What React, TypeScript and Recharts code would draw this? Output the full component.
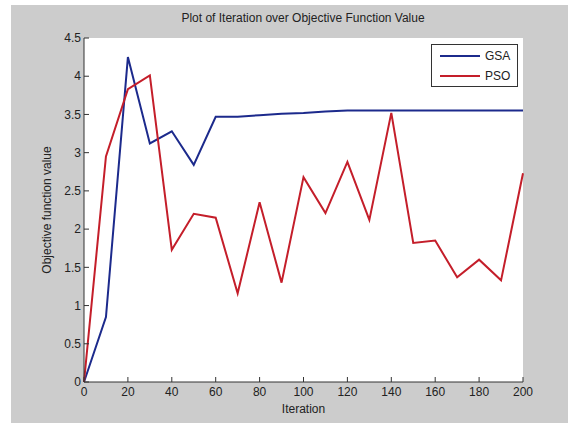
import { LineChart, Line, XAxis, YAxis, Legend } from 'recharts';

const iterations = [0, 10, 20, 30, 40, 50, 60, 70, 80, 90, 100, 110, 120, 130, 140, 150, 160, 170, 180, 190, 200];
const gsaValues = [0, 0.85, 4.25, 3.12, 3.28, 2.84, 3.47, 3.47, 3.49, 3.51, 3.52, 3.54, 3.55, 3.55, 3.55, 3.55, 3.55, 3.55, 3.55, 3.55, 3.55];
const psoValues = [0, 2.95, 3.83, 4.01, 1.73, 2.2, 2.15, 1.16, 2.35, 1.3, 2.68, 2.21, 2.88, 2.12, 3.52, 1.82, 1.85, 1.37, 1.6, 1.33, 2.73];
const xTicks = [0, 20, 40, 60, 80, 100, 120, 140, 160, 180, 200];
const yTicks = [0, 0.5, 1, 1.5, 2, 2.5, 3, 3.5, 4, 4.5];

const rows = iterations.map((it, i) => ({ it, gsa: gsaValues[i], pso: psoValues[i] }));

const GSA_COLOR = '#1c2a8c';
const PSO_COLOR = '#c41e2a';
const AXIS = '#333';
const FONT = '"Liberation Sans", Arial, sans-serif';

const tickStyle = { fontSize: 12, fill: '#222', fontFamily: FONT };

function MatlabLegend() {
  return (
    <div
      style={{
        position: 'absolute',
        left: 431,
        top: 44,
        width: 85,
        height: 41,
        border: `1px solid ${AXIS}`,
        background: '#fff',
        fontFamily: FONT,
        fontSize: 12,
        color: '#222',
      }}
    >
      {[
        { name: 'GSA', color: GSA_COLOR },
        { name: 'PSO', color: PSO_COLOR },
      ].map((e, i) => (
        <div key={e.name} style={{ position: 'absolute', left: 8, top: 3 + i * 20, height: 16, display: 'flex', alignItems: 'center' }}>
          <span style={{ width: 40, height: 2, background: e.color, display: 'inline-block' }} />
          <span style={{ marginLeft: 5 }}>{e.name}</span>
        </div>
      ))}
    </div>
  );
}

export default function App() {
  return (
    <div style={{ position: 'absolute', left: 0, top: 0, width: 568, height: 423, background: '#fff' }}>
      <div style={{ position: 'absolute', left: 11, top: 5, width: 557, height: 418, background: '#cccccc' }} />
      <div
        style={{
          position: 'absolute',
          left: 0,
          top: 11,
          width: 568,
          textAlign: 'center',
          paddingLeft: 38,
          boxSizing: 'border-box',
          fontFamily: FONT,
          fontSize: 12,
          color: '#222',
        }}
      >
        Plot of Iteration over Objective Function Value
      </div>
      <div style={{ position: 'absolute', left: 0, top: 0 }}>
        <LineChart width={568} height={423} data={rows} margin={{ top: 38, right: 45, bottom: 11, left: 44 }}>
          <rect x={84} y={38} width={439} height={344} fill="#fff" />
          <XAxis
            xAxisId="b"
            dataKey="it"
            type="number"
            domain={[0, 200]}
            ticks={xTicks}
            interval={0}
            height={30}
            stroke={AXIS}
            tickSize={-5}
            tickMargin={10}
            tick={tickStyle}
            label={{ value: 'Iteration', position: 'insideBottom', offset: -1, style: { fontSize: 12, fill: '#222', fontFamily: FONT } }}
          />
          <XAxis
            xAxisId="t"
            orientation="top"
            dataKey="it"
            type="number"
            domain={[0, 200]}
            ticks={xTicks}
            height={0}
            stroke={AXIS}
            tickSize={-5}
            tickFormatter={() => ''}
          />
          <YAxis
            yAxisId="l"
            type="number"
            domain={[0, 4.5]}
            ticks={yTicks}
            interval={0}
            width={40}
            stroke={AXIS}
            tickSize={-5}
            tickMargin={8}
            tick={tickStyle}
            label={{
              value: 'Objective function value',
              angle: -90,
              position: 'insideLeft',
              offset: 3,
              style: { fontSize: 12, fill: '#222', fontFamily: FONT, textAnchor: 'middle' },
            }}
          />
          <YAxis
            yAxisId="r"
            orientation="right"
            type="number"
            domain={[0, 4.5]}
            ticks={yTicks}
            width={0}
            stroke={AXIS}
            tickSize={-5}
            tickFormatter={() => ''}
          />
          <Legend content={() => null} />
          <Line xAxisId="b" yAxisId="l" dataKey="gsa" name="GSA" stroke={GSA_COLOR} strokeWidth={2} dot={false} isAnimationActive={false} />
          <Line xAxisId="b" yAxisId="l" dataKey="pso" name="PSO" stroke={PSO_COLOR} strokeWidth={2} dot={false} isAnimationActive={false} />
        </LineChart>
      </div>
      <MatlabLegend />
    </div>
  );
}
